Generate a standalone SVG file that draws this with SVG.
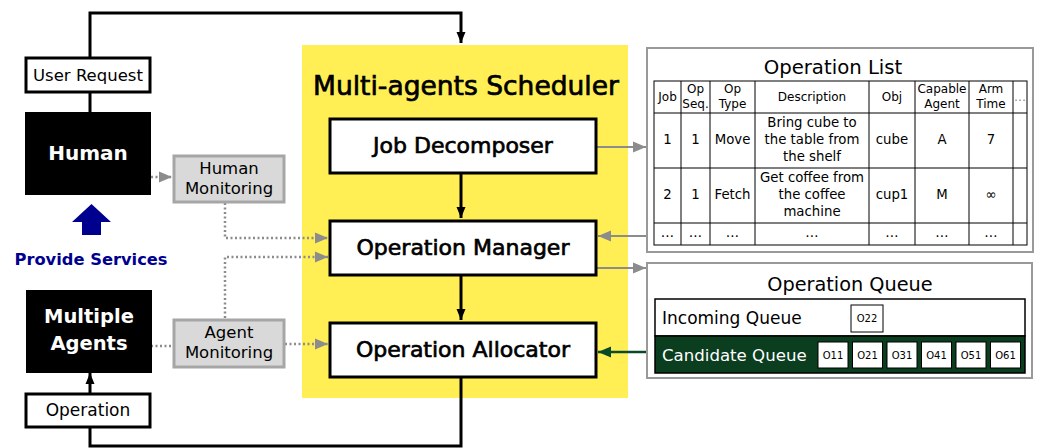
<svg xmlns="http://www.w3.org/2000/svg" width="1038" height="448" viewBox="0 0 1038 448">
<defs>
<style>
text{font-family:"DejaVu Sans","Liberation Sans",sans-serif;fill:#000}
.c{text-anchor:middle}
.b{font-weight:bold}
.sb{stroke:#000;stroke-width:0.7}
.w{fill:#fff}
.blk{fill:#000;stroke:#000;stroke-width:2}
.wbox{fill:#fff;stroke:#000;stroke-width:3}
.mon{fill:#d9d9d9;stroke:#a6a6a6;stroke-width:3}
.solid{fill:none;stroke:#000;stroke-width:3}
.gray{fill:none;stroke:#8c8c8c;stroke-width:2}
.dot{fill:none;stroke:#8c8c8c;stroke-width:2.5;stroke-dasharray:2 2.5}
.grn{fill:none;stroke:#0b4a26;stroke-width:2.5}
.tl{stroke:#000;stroke-width:1;fill:none}
.th{font-size:12px}
.td{font-size:13.3px}
.q{fill:#fff;stroke:#000;stroke-width:1}
.qt{font-size:10px}
</style>
<marker id="ab" markerUnits="userSpaceOnUse" markerWidth="12" markerHeight="12" viewBox="0 0 12 12" refX="11" refY="6" orient="auto"><path d="M0,1.5 L11,6 L0,10.5 Z" fill="#000"/></marker>
<marker id="ag" markerUnits="userSpaceOnUse" markerWidth="14" markerHeight="14" viewBox="0 0 14 14" refX="13" refY="7" orient="auto"><path d="M0,1.5 L13,7 L0,12.5 Z" fill="#8c8c8c"/></marker>
<marker id="agr" markerUnits="userSpaceOnUse" markerWidth="14" markerHeight="14" viewBox="0 0 14 14" refX="13" refY="7" orient="auto"><path d="M0,1.5 L13,7 L0,12.5 Z" fill="#0b4a26"/></marker>
</defs>
<rect width="1038" height="448" fill="#fff"/>

<g id="scheduler">
<rect x="302" y="45" width="326" height="353" fill="#ffef55"/>
<text class="c sb" x="466" y="95" font-size="26.5">Multi-agents Scheduler</text>
</g>

<g id="connectors">
<polyline class="solid" points="90,58 90,13 461,13 461,43" marker-end="url(#ab)"/>
<line class="solid" x1="90" y1="92" x2="90" y2="113"/>
<line class="solid" x1="461" y1="174" x2="461" y2="218" marker-end="url(#ab)"/>
<line class="solid" x1="461" y1="276" x2="461" y2="320" marker-end="url(#ab)"/>
<polyline class="solid" points="461,377 461,446 90,446 90,427"/>
<line class="solid" x1="90" y1="394" x2="90" y2="373" marker-end="url(#ab)"/>
<line class="dot" x1="151" y1="177" x2="172" y2="177" marker-end="url(#ag)"/>
<polyline class="dot" points="225,203 225,238 328,238" marker-end="url(#ag)"/>
<polyline class="dot" points="225,318 225,257 328,257" marker-end="url(#ag)"/>
<line class="dot" x1="151" y1="346" x2="173" y2="346"/>
<line class="dot" x1="285" y1="344" x2="328" y2="344" marker-end="url(#ag)"/>
<line class="gray" x1="597" y1="147" x2="646" y2="147" marker-end="url(#ag)"/>
<line class="gray" x1="647" y1="236" x2="598" y2="236" marker-end="url(#ag)"/>
<line class="gray" x1="597" y1="268" x2="646" y2="268" marker-end="url(#ag)"/>
<line class="grn" x1="656" y1="352" x2="598" y2="352" marker-end="url(#agr)"/>
<path d="M82,235 L82,222 L72,222 L91.5,204 L111,222 L101,222 L101,235 Z" fill="#00008f"/>
</g>

<g id="user-request">
<rect class="wbox" x="26" y="58" width="124" height="34"/>
<text class="c" x="88" y="81" font-size="16.5">User Request</text>
</g>
<g id="human">
<rect class="blk" x="26" y="113" width="124" height="81"/>
<text class="c b w" x="88" y="160" font-size="20">Human</text>
</g>
<g id="provide-services">
<text class="c b" x="91" y="265" font-size="16.3" style="fill:#00008f">Provide Services</text>
</g>
<g id="multiple-agents">
<rect class="blk" x="27" y="291" width="124" height="81"/>
<text class="c b w" x="89" y="323" font-size="19.5">Multiple</text>
<text class="c b w" x="89" y="350" font-size="19.5">Agents</text>
</g>
<g id="operation">
<rect class="wbox" x="26" y="394" width="124" height="33"/>
<text class="c" x="88" y="416" font-size="17">Operation</text>
</g>
<g id="human-monitoring">
<rect class="mon" x="174" y="156" width="110" height="46"/>
<text class="c" x="229" y="174" font-size="16.5">Human</text>
<text class="c" x="229" y="194" font-size="16.5">Monitoring</text>
</g>
<g id="agent-monitoring">
<rect class="mon" x="174" y="320" width="110" height="47"/>
<text class="c" x="229" y="338" font-size="16.5">Agent</text>
<text class="c" x="229" y="358" font-size="16.5">Monitoring</text>
</g>

<g id="job-decomposer">
<rect class="wbox" x="330" y="119" width="266" height="54"/>
<text class="c sb" x="463" y="153" font-size="22">Job Decomposer</text>
</g>
<g id="operation-manager">
<rect class="wbox" x="330" y="221" width="266" height="54"/>
<text class="c sb" x="463" y="255" font-size="22">Operation Manager</text>
</g>
<g id="operation-allocator">
<rect class="wbox" x="330" y="323" width="266" height="54"/>
<text class="c sb" x="463" y="357" font-size="22">Operation Allocator</text>
</g>

<g id="operation-list">
<rect x="647" y="48" width="386" height="204" fill="#fff" stroke="#999" stroke-width="2"/>
<text class="c" x="833" y="74" font-size="19.7">Operation List</text>
<rect class="tl" x="654" y="81" width="373" height="164" stroke-width="1.5"/>
<path class="tl" d="M681,81V245M710,81V245M755,81V245M869,81V245M915,81V245M969,81V245M1013,81V245M654,113H1027M654,168H1027M654,223H1027"/>
<text class="c th" x="667.5" y="101">Job</text>
<text class="c th" x="695.5" y="93">Op</text><text class="c th" x="695.5" y="108">Seq.</text>
<text class="c th" x="732.5" y="93">Op</text><text class="c th" x="732.5" y="108">Type</text>
<text class="c th" x="812" y="101">Description</text>
<text class="c th" x="892" y="101">Obj</text>
<text class="c th" x="942" y="93">Capable</text><text class="c th" x="942" y="108">Agent</text>
<text class="c th" x="991" y="93">Arm</text><text class="c th" x="991" y="108">Time</text>
<text class="c th" x="1020" y="101" style="fill:#888">…</text>
<text class="c td" x="667.5" y="144">1</text>
<text class="c td" x="695.5" y="144">1</text>
<text class="c td" x="732.5" y="144">Move</text>
<text class="c td" x="812" y="127">Bring cube to</text>
<text class="c td" x="812" y="144">the table from</text>
<text class="c td" x="812" y="161">the shelf</text>
<text class="c td" x="892" y="144">cube</text>
<text class="c td" x="942" y="144">A</text>
<text class="c td" x="991" y="144">7</text>
<text class="c td" x="667.5" y="199">2</text>
<text class="c td" x="695.5" y="199">1</text>
<text class="c td" x="732.5" y="199">Fetch</text>
<text class="c td" x="812" y="182">Get coffee from</text>
<text class="c td" x="812" y="199">the coffee</text>
<text class="c td" x="812" y="216">machine</text>
<text class="c td" x="892" y="199">cup1</text>
<text class="c td" x="942" y="199">M</text>
<text class="c td" x="991" y="199">∞</text>
<text class="c td" x="667.5" y="237">…</text>
<text class="c td" x="695.5" y="237">…</text>
<text class="c td" x="732.5" y="237">…</text>
<text class="c td" x="812" y="237">…</text>
<text class="c td" x="892" y="237">…</text>
<text class="c td" x="942" y="237">…</text>
<text class="c td" x="991" y="237">…</text>
</g>

<g id="operation-queue">
<rect x="647" y="263" width="385" height="115" fill="#fff" stroke="#999" stroke-width="2"/>
<text class="c" x="850" y="291" font-size="19.3">Operation Queue</text>
<rect x="655" y="299" width="370" height="37" fill="#fff" stroke="#000" stroke-width="1.5"/>
<rect x="655" y="336" width="370" height="37" fill="#0b3d1f" stroke="#000" stroke-width="1.5"/>
<text x="662" y="324" font-size="17">Incoming Queue</text>
<text class="w" x="662" y="361" font-size="16.6">Candidate Queue</text>
<rect class="q" x="851" y="305" width="32" height="27"/>
<text class="c qt" x="867" y="322">O22</text>
<rect class="q" x="818" y="342" width="30" height="26"/><text class="c qt" x="833" y="359">O11</text>
<rect class="q" x="852.5" y="342" width="30" height="26"/><text class="c qt" x="867.5" y="359">O21</text>
<rect class="q" x="887" y="342" width="30" height="26"/><text class="c qt" x="902" y="359">O31</text>
<rect class="q" x="921.5" y="342" width="30" height="26"/><text class="c qt" x="936.5" y="359">O41</text>
<rect class="q" x="956" y="342" width="30" height="26"/><text class="c qt" x="971" y="359">O51</text>
<rect class="q" x="990.5" y="342" width="30" height="26"/><text class="c qt" x="1005.5" y="359">O61</text>
</g>
</svg>
